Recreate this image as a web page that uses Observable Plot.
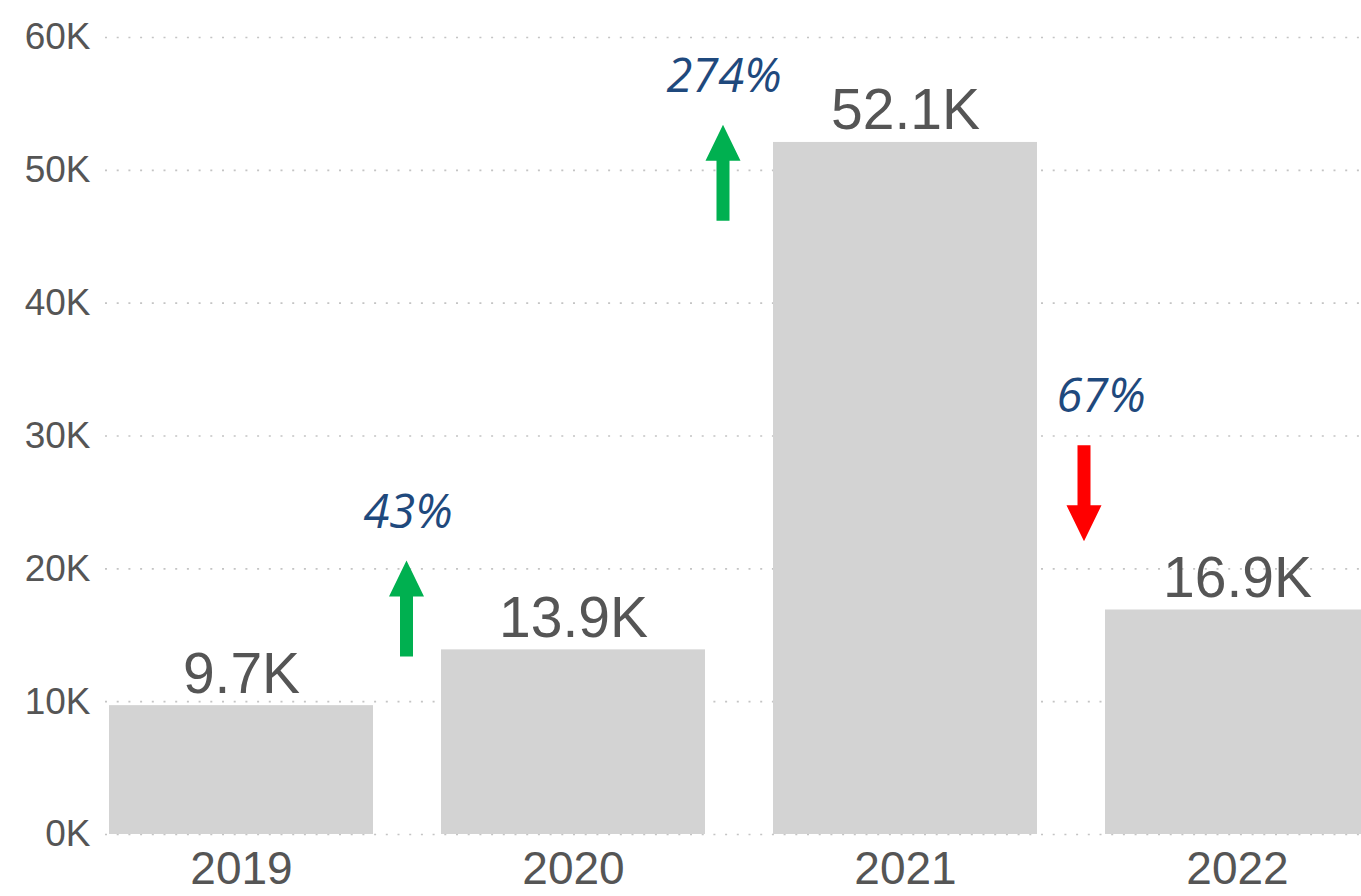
<!DOCTYPE html>
<html><head><meta charset="utf-8">
<script src="https://cdn.jsdelivr.net/npm/d3@7"></script>
<script src="https://cdn.jsdelivr.net/npm/@observablehq/plot@0.6"></script>
<style>html,body{margin:0;padding:0;background:#fff;overflow:hidden}</style>
</head><body><div id="chart"></div>
<script>
// Data
const years = ["2019", "2020", "2021", "2022"];
const totals = [9700, 13900, 52100, 16900];
const yTicks = [0, 10000, 20000, 30000, 40000, 50000, 60000];

// Year-over-year change annotations
const changeLabels = ["43%", "274%", "67%"];
const changeTo = ["2020", "2021", "2022"];
const changeDir = ["up", "up", "down"];
const labelY = [23100, 55900, 31800];
const arrowBaseY = [13400, 46200, 29300];
const labelShift = [-165.5, -181.5, -136.5];
const arrowShift = [-167, -182.5, -153.5];

const data = years.map((year, i) => ({year, value: totals[i]}));
const annos = changeLabels.map((label, i) => ({
  label, to: changeTo[i], dir: changeDir[i], ly: labelY[i], ay: arrowBaseY[i]
}));

const blockArrow = {
  draw(context, l) {
    const w = 6.5, h = 17.5, hl = 36;
    context.moveTo(-w, 0);
    context.lineTo(-w, -(l - hl));
    context.lineTo(-h, -(l - hl));
    context.lineTo(0, -l);
    context.lineTo(h, -(l - hl));
    context.lineTo(w, -(l - hl));
    context.lineTo(w, 0);
    context.closePath();
  }
};

const annoMarks = annos.flatMap((a, i) => [
  Plot.vector([a], {
    x: "to", y: "ay", length: 96,
    rotate: a.dir === "up" ? 0 : 180,
    anchor: "start", shape: blockArrow,
    fill: a.dir === "up" ? "#00b050" : "#ff0000",
    stroke: "none", dx: arrowShift[i]
  }),
  Plot.text([a], {
    x: "to", y: "ly", text: "label",
    fontSize: 47, fontStyle: "italic", fontFamily: "Open Sans", fontWeight: 500,
    fill: "#1f497d", lineAnchor: "bottom", dx: labelShift[i]
  })
]);

const chart = Plot.plot({
  width: 1361,
  height: 896,
  marginLeft: 105,
  marginRight: 0,
  marginTop: 37,
  marginBottom: 62,
  style: {fontFamily: "'Liberation Sans', Arial, sans-serif", color: "#555", background: "#fff", overflow: "hidden"},
  x: {type: "band", domain: years, range: [107, 1371], paddingInner: 0.204, paddingOuter: 0, align: 0.5},
  y: {domain: [0, 60000], range: [834, 37]},
  marks: [
    Plot.gridY({ticks: yTicks, stroke: "#c4c4c4", strokeOpacity: 1, strokeDasharray: "2 9.7", strokeWidth: 1.6}),
    Plot.barY(data, {x: "year", y: "value", fill: "#d3d3d3"}),
    Plot.text(data, {
      x: "year", y: "value",
      text: d => (d.value / 1000).toFixed(1) + "K",
      dy: -13, lineAnchor: "bottom", fontSize: 57, fill: "#555"
    }),
    Plot.axisY({ticks: yTicks, tickFormat: d => d / 1000 + "K", tickSize: 0, tickPadding: 15, fontSize: 37, label: null}),
    Plot.axisX({tickSize: 0, tickPadding: 17, fontSize: 46, label: null}),
    ...annoMarks
  ]
});
document.getElementById("chart").appendChild(chart);
</script>
</body></html>
